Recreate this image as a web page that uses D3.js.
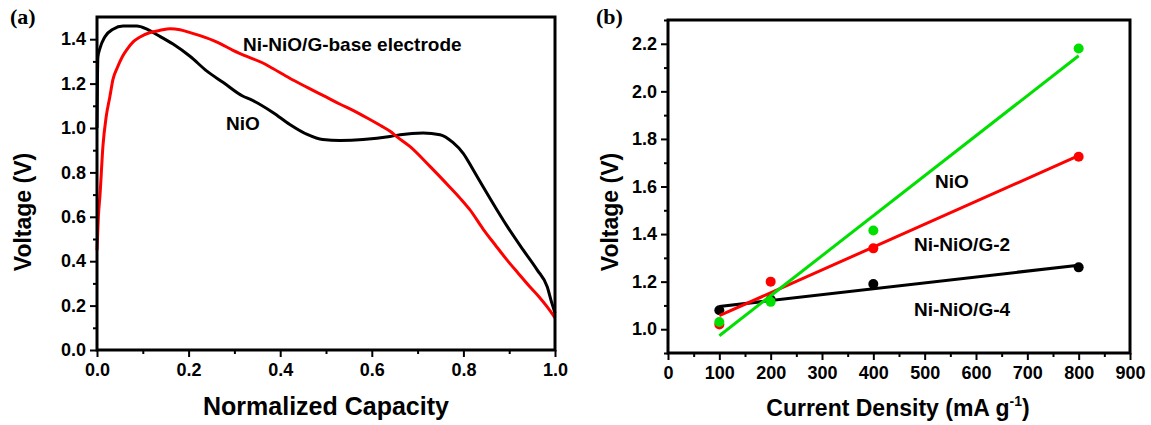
<!DOCTYPE html>
<html>
<head>
<meta charset="utf-8">
<script src="https://cdn.jsdelivr.net/npm/d3@7"></script>
<style>
  html, body { margin: 0; padding: 0; background: #fff; }
  svg { display: block; }
  text { font-family: "Liberation Sans", Arial, sans-serif; font-weight: bold; fill: #000; }
  .serif { font-family: "Liberation Serif", "Times New Roman", serif; }
</style>
</head>
<body>
<svg id="chart" width="1151" height="425"></svg>
<script>
// ---- Panel (a): discharge curves, voltage vs normalized capacity ----
const capNiO = [0, 0.001, 0.002, 0.0066, 0.017, 0.035, 0.057, 0.087, 0.109, 0.131, 0.166, 0.203, 0.24, 0.275, 0.319, 0.334, 0.384, 0.421, 0.459, 0.493, 0.531, 0.581, 0.64, 0.662, 0.712, 0.749, 0.777, 0.8, 0.821, 0.843, 0.873, 0.896, 0.93, 0.961, 0.983, 0.993, 1.0];
const voltNiO = [1.0, 1.22, 1.32, 1.36, 1.41, 1.445, 1.459, 1.459, 1.445, 1.42, 1.378, 1.323, 1.256, 1.206, 1.143, 1.13, 1.07, 1.016, 0.971, 0.948, 0.944, 0.948, 0.962, 0.97, 0.978, 0.97, 0.935, 0.885, 0.813, 0.735, 0.632, 0.556, 0.452, 0.361, 0.285, 0.212, 0.167];

const capNiG = [0, 0.003, 0.0066, 0.013, 0.02, 0.028, 0.035, 0.044, 0.055, 0.066, 0.08, 0.094, 0.116, 0.138, 0.16, 0.181, 0.2, 0.225, 0.262, 0.297, 0.33, 0.36, 0.384, 0.42, 0.459, 0.5, 0.531, 0.56, 0.59, 0.62, 0.64, 0.655, 0.683, 0.727, 0.771, 0.793, 0.814, 0.843, 0.87, 0.895, 0.92, 0.945, 0.965, 0.983, 1.0];
const voltNiG = [0.45, 0.6, 0.70, 0.92, 1.05, 1.14, 1.22, 1.27, 1.32, 1.355, 1.39, 1.41, 1.43, 1.44, 1.447, 1.443, 1.432, 1.416, 1.387, 1.35, 1.32, 1.295, 1.268, 1.225, 1.183, 1.14, 1.107, 1.078, 1.045, 1.01, 0.985, 0.96, 0.917, 0.827, 0.732, 0.683, 0.632, 0.545, 0.472, 0.406, 0.345, 0.285, 0.24, 0.194, 0.145];

const aXTicks = [0, 0.2, 0.4, 0.6, 0.8, 1.0];
const aXMinor = [0.1, 0.3, 0.5, 0.7, 0.9];
const aYTicks = [0, 0.2, 0.4, 0.6, 0.8, 1.0, 1.2, 1.4];
const aYMinor = [0.1, 0.3, 0.5, 0.7, 0.9, 1.1, 1.3];

// ---- Panel (b): voltage vs current density ----
const currentDensity = [100, 200, 400, 800];
const voltNiOb = [1.03, 1.115, 1.415, 2.18];
const voltG2 = [1.02, 1.20, 1.34, 1.725];
const voltG4 = [1.08, 1.125, 1.19, 1.26];

const bXTicks = [0, 100, 200, 300, 400, 500, 600, 700, 800, 900];
const bXMinor = [50, 150, 250, 350, 450, 550, 650, 750, 850];
const bYTicks = [1.0, 1.2, 1.4, 1.6, 1.8, 2.0, 2.2];
const bYMinor = [0.9, 1.1, 1.3, 1.5, 1.7, 1.9, 2.1, 2.3];

const svg = d3.select("#chart");

function drawAxes(g, x, y, o) {
  const [x0, x1] = x.range();
  const [y0, y1] = y.range();
  // minor ticks
  g.append("g").attr("transform", `translate(0,${y0})`)
    .call(d3.axisBottom(x).tickValues(o.xMinor).tickSize(4).tickFormat(""))
    .call(s => s.select(".domain").remove())
    .call(s => s.selectAll("line").attr("stroke-width", 2));
  g.append("g").attr("transform", `translate(${x0},0)`)
    .call(d3.axisLeft(y).tickValues(o.yMinor.filter(v => v >= y.domain()[0] && v <= y.domain()[1])).tickSize(4).tickFormat(""))
    .call(s => s.select(".domain").remove())
    .call(s => s.selectAll("line").attr("stroke-width", 2));
  // major ticks with labels
  g.append("g").attr("transform", `translate(0,${y0})`)
    .call(d3.axisBottom(x).tickValues(o.xTicks).tickSize(7).tickPadding(6).tickFormat(o.xFmt))
    .call(s => s.select(".domain").remove())
    .call(s => s.selectAll("line").attr("stroke-width", 2))
    .call(s => s.selectAll("text").attr("font-size", 18).attr("font-family", null).attr("fill", "#000"));
  g.append("g").attr("transform", `translate(${x0},0)`)
    .call(d3.axisLeft(y).tickValues(o.yTicks).tickSize(7).tickPadding(4).tickFormat(d3.format(".1f")))
    .call(s => s.select(".domain").remove())
    .call(s => s.selectAll("line").attr("stroke-width", 2))
    .call(s => s.selectAll("text").attr("font-size", 18).attr("font-family", null).attr("fill", "#000"));
  // frame
  g.append("rect")
    .attr("x", x0).attr("y", y1)
    .attr("width", x1 - x0).attr("height", y0 - y1)
    .attr("fill", "none").attr("stroke", "#000").attr("stroke-width", 3);
}

// ===== Panel (a) =====
{
  const x = d3.scaleLinear().domain([0, 1.0]).range([97, 555]);
  const y = d3.scaleLinear().domain([0, 1.5]).range([350, 17]);
  const g = svg.append("g");

  const line = d3.line().x(d => x(d[0])).y(d => y(d[1])).curve(d3.curveMonotoneX);
  g.append("path").datum(d3.zip(capNiO, voltNiO))
    .attr("d", line).attr("fill", "none").attr("stroke", "#000").attr("stroke-width", 3);
  g.append("path").datum(d3.zip(capNiG, voltNiG))
    .attr("d", line).attr("fill", "none").attr("stroke", "#ff0000").attr("stroke-width", 3);

  drawAxes(g, x, y, { xTicks: aXTicks, xMinor: aXMinor, yTicks: aYTicks, yMinor: aYMinor, xFmt: d3.format(".1f") });

  g.append("text").attr("x", 243).attr("y", 51).attr("font-size", 19).text("Ni-NiO/G-base electrode");
  g.append("text").attr("x", 226).attr("y", 130).attr("font-size", 19).text("NiO");

  g.append("text").attr("x", 326).attr("y", 415).attr("text-anchor", "middle").attr("font-size", 25).text("Normalized Capacity");
  g.append("text").attr("transform", "translate(31,212) rotate(-90)").attr("text-anchor", "middle").attr("font-size", 23).text("Voltage (V)");
  g.append("text").attr("class", "serif").attr("x", 10).attr("y", 24).attr("font-size", 22).text("(a)");
}

// ===== Panel (b) =====
{
  const x = d3.scaleLinear().domain([0, 900]).range([668, 1130]);
  const y = d3.scaleLinear().domain([0.9, 2.3]).range([353, 20]);
  const g = svg.append("g");

  // least-squares fit through each series
  function fit(xs, ys) {
    const mx = d3.mean(xs), my = d3.mean(ys);
    const sxy = d3.sum(xs, (v, i) => (v - mx) * (ys[i] - my));
    const sxx = d3.sum(xs, v => (v - mx) * (v - mx));
    const k = sxy / sxx, b = my - k * mx;
    return [xs[0], xs[xs.length - 1]].map(v => [v, k * v + b]);
  }

  const series = [
    { v: voltG4, color: "#000000" },
    { v: voltG2, color: "#ff0000" },
    { v: voltNiOb, color: "#00e000" }
  ];
  const line = d3.line().x(d => x(d[0])).y(d => y(d[1]));
  series.forEach(s => {
    g.append("path").datum(fit(currentDensity, s.v))
      .attr("d", line).attr("fill", "none").attr("stroke", s.color).attr("stroke-width", 3);
    g.selectAll(null).data(d3.zip(currentDensity, s.v)).join("circle")
      .attr("cx", d => x(d[0])).attr("cy", d => y(d[1])).attr("r", 5).attr("fill", s.color);
  });

  drawAxes(g, x, y, { xTicks: bXTicks, xMinor: bXMinor, yTicks: bYTicks, yMinor: bYMinor, xFmt: d3.format("d") });

  g.append("text").attr("x", 935).attr("y", 188).attr("font-size", 19).text("NiO");
  g.append("text").attr("x", 914).attr("y", 251).attr("font-size", 19).text("Ni-NiO/G-2");
  g.append("text").attr("x", 914).attr("y", 316).attr("font-size", 19).text("Ni-NiO/G-4");

  const t = g.append("text").attr("x", 898).attr("y", 416).attr("text-anchor", "middle").attr("font-size", 23);
  t.append("tspan").text("Current Density (mA g");
  t.append("tspan").attr("font-size", 14).attr("dy", -10).text("-1");
  t.append("tspan").attr("dy", 10).text(")");
  g.append("text").attr("transform", "translate(618,212) rotate(-90)").attr("text-anchor", "middle").attr("font-size", 23).text("Voltage (V)");
  g.append("text").attr("class", "serif").attr("x", 596).attr("y", 24).attr("font-size", 22).text("(b)");
}
</script>
</body>
</html>
